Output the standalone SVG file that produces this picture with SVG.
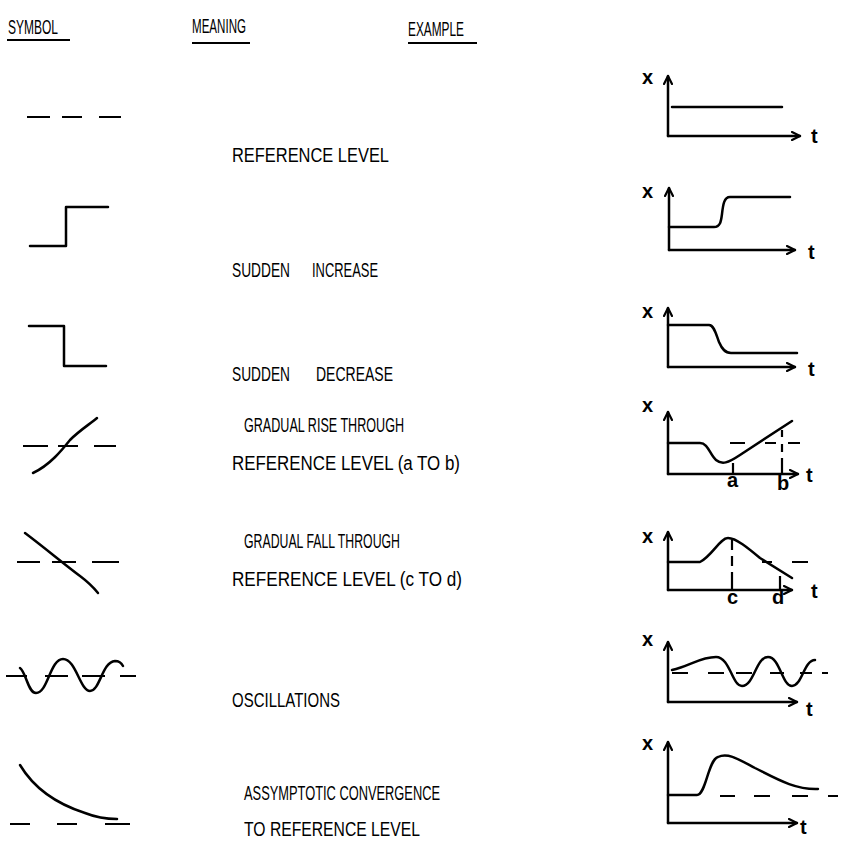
<svg xmlns="http://www.w3.org/2000/svg" width="845" height="843" viewBox="0 0 845 843">
<defs>
<style>
.ln{fill:none;stroke:#000;stroke-width:2.5;stroke-linecap:round;stroke-linejoin:round}
.ds{fill:none;stroke:#000;stroke-width:2.2;stroke-linecap:butt}
.ax{fill:none;stroke:#000;stroke-width:2.5;stroke-linecap:round}
.hd{font-family:"Liberation Sans","DejaVu Sans",sans-serif;font-size:21px;fill:#000}
.tx{font-family:"Liberation Sans","DejaVu Sans",sans-serif;font-size:20px;fill:#000}
.lb{font-family:"Liberation Sans","DejaVu Sans",sans-serif;font-size:20px;font-weight:bold;fill:#000}
</style>
<marker id="arr" viewBox="0 0 10 10" refX="9" refY="5" markerWidth="10" markerHeight="10" markerUnits="userSpaceOnUse" orient="auto">
<path d="M1,1 L9,5 L1,9" fill="none" stroke="#000" stroke-width="2.2" stroke-linecap="round" stroke-linejoin="round"/>
</marker>
</defs>
<rect width="845" height="843" fill="#fff"/>

<g id="headers">
<text class="hd" x="8" y="34" textLength="50" lengthAdjust="spacingAndGlyphs">SYMBOL</text>
<line class="ds" x1="7" y1="40" x2="70" y2="40"/>
<text class="hd" x="192" y="33" textLength="54" lengthAdjust="spacingAndGlyphs">MEANING</text>
<line class="ds" x1="192" y1="43" x2="250" y2="43"/>
<text class="hd" x="408" y="36" textLength="56" lengthAdjust="spacingAndGlyphs">EXAMPLE</text>
<line class="ds" x1="408" y1="43" x2="477" y2="43"/>
</g>

<g id="row1">
<path class="ds" d="M27,117 H50 M62,117 H82 M99,117 H121"/>
<text class="tx" x="232" y="162" textLength="157" lengthAdjust="spacingAndGlyphs">REFERENCE LEVEL</text>
<path class="ax" d="M668,136 V76" marker-end="url(#arr)"/>
<path class="ax" d="M668,136 H800" marker-end="url(#arr)"/>
<path class="ln" d="M672,107 H782"/>
<text class="lb" x="642" y="84">x</text>
<text class="lb" x="811" y="143">t</text>
</g>

<g id="row2">
<path class="ln" d="M30,246 H66 V207 H108"/>
<text class="tx" x="232" y="277" textLength="58" lengthAdjust="spacingAndGlyphs">SUDDEN</text>
<text class="tx" x="312" y="277" textLength="66" lengthAdjust="spacingAndGlyphs">INCREASE</text>
<path class="ax" d="M669,250 V188" marker-end="url(#arr)"/>
<path class="ax" d="M669,250 H795" marker-end="url(#arr)"/>
<path class="ln" d="M669,227 H714 C720,227 721,222 722,214 C723,205 724,197 730,197 H790"/>
<text class="lb" x="642" y="198">x</text>
<text class="lb" x="808" y="259">t</text>
</g>

<g id="row3">
<path class="ln" d="M29,326 H64 V366 H106"/>
<text class="tx" x="232" y="381" textLength="58" lengthAdjust="spacingAndGlyphs">SUDDEN</text>
<text class="tx" x="316" y="381" textLength="77" lengthAdjust="spacingAndGlyphs">DECREASE</text>
<path class="ax" d="M668,367 V308" marker-end="url(#arr)"/>
<path class="ax" d="M668,367 H795" marker-end="url(#arr)"/>
<path class="ln" d="M668,325 H709 C714,325 716,334 719,342 C722,349 725,353 731,353 H797"/>
<text class="lb" x="642" y="318">x</text>
<text class="lb" x="808" y="376">t</text>
</g>

<g id="row4">
<path class="ds" d="M23,446 H48 M58,446 H78 M94,446 H116"/>
<path class="ln" d="M33,473 C50,465 62,450 70,440 C80,430 90,424 97,418"/>
<text class="tx" x="244" y="432" textLength="160" lengthAdjust="spacingAndGlyphs">GRADUAL RISE THROUGH</text>
<text class="tx" x="232" y="470" textLength="228" lengthAdjust="spacingAndGlyphs">REFERENCE LEVEL (a TO b)</text>
<path class="ax" d="M668,474 V412" marker-end="url(#arr)"/>
<path class="ax" d="M668,474 H798" marker-end="url(#arr)"/>
<path class="ds" d="M672,443 H688 M730,443 H745 M765,443 H776 M788,443 H800"/>
<path class="ln" d="M668,443 H700 C708,443 710,455 716,460 C722,465 728,463 740,455 L792,421"/>
<path class="ds" d="M733,463 V474 M782,430 V437 M782,444 V452 M782,458 V474"/>
<text class="lb" x="642" y="412">x</text>
<text class="lb" x="727" y="487" font-size="16">a</text>
<text class="lb" x="777" y="490" font-size="16">b</text>
<text class="lb" x="806" y="482">t</text>
</g>

<g id="row5">
<path class="ds" d="M17,562 H40 M52,562 H76 M92,562 H119"/>
<path class="ln" d="M25,533 C45,548 65,565 80,576 C88,582 94,588 98,593"/>
<text class="tx" x="244" y="548" textLength="156" lengthAdjust="spacingAndGlyphs">GRADUAL FALL THROUGH</text>
<text class="tx" x="232" y="586" textLength="230" lengthAdjust="spacingAndGlyphs">REFERENCE LEVEL (c TO d)</text>
<path class="ax" d="M668,590 V532" marker-end="url(#arr)"/>
<path class="ax" d="M668,590 H792" marker-end="url(#arr)"/>
<path class="ln" d="M668,562 H700 C712,556 720,538 728,538 C736,538 748,548 760,558 L792,578"/>
<path class="ds" d="M762,562 H772 M792,562 H808"/>
<path class="ds" d="M732,540 V550 M732,556 V566 M732,572 V590 M780,576 V590"/>
<text class="lb" x="727" y="604" font-size="16">c</text>
<text class="lb" x="772" y="604" font-size="16">d</text>
<text class="lb" x="811" y="598">t</text>
<text class="lb" x="642" y="543">x</text>
</g>

<g id="row6">
<path class="ds" d="M6,676 H27 M45,676 H68 M82,676 H105 M120,676 H136"/>
<path class="ln" d="M20,668 C26,672 28,693 36,693 C48,693 50,659 63,659 C76,659 80,691 90,691 C100,691 102,662 115,661 C120,661 122,664 123,666"/>
<text class="tx" x="232" y="707" textLength="108" lengthAdjust="spacingAndGlyphs">OSCILLATIONS</text>
<path class="ax" d="M668,702 V642" marker-end="url(#arr)"/>
<path class="ax" d="M668,702 H797" marker-end="url(#arr)"/>
<path class="ds" d="M672,673 H688 M708,673 H724 M736,673 H752 M770,673 H784 M800,673 H812 M822,673 H828"/>
<path class="ln" d="M672,670 C690,666 700,657 716,657 C730,657 732,686 742,686 C754,686 756,657 768,657 C780,657 782,686 792,686 C802,686 804,660 815,660"/>
<text class="lb" x="642" y="646">x</text>
<text class="lb" x="806" y="716">t</text>
</g>

<g id="row7">
<path class="ds" d="M10,824 H30 M57,824 H77 M105,824 H130"/>
<path class="ln" d="M20,765 C35,790 60,805 85,813 C95,817 103,819 117,819"/>
<text class="tx" x="244" y="800" textLength="196" lengthAdjust="spacingAndGlyphs">ASSYMPTOTIC CONVERGENCE</text>
<text class="tx" x="244" y="836" textLength="176" lengthAdjust="spacingAndGlyphs">TO REFERENCE LEVEL</text>
<path class="ax" d="M668,823 V742" marker-end="url(#arr)"/>
<path class="ax" d="M668,823 H797" marker-end="url(#arr)"/>
<path class="ds" d="M720,796 H735 M754,796 H770 M792,796 H808 M828,796 H838"/>
<path class="ln" d="M668,795 H697 C706,795 708,760 718,757 C728,752 740,760 755,768 C775,778 795,790 818,789"/>
<text class="lb" x="642" y="750">x</text>
<text class="lb" x="800" y="834">t</text>
</g>
</svg>
